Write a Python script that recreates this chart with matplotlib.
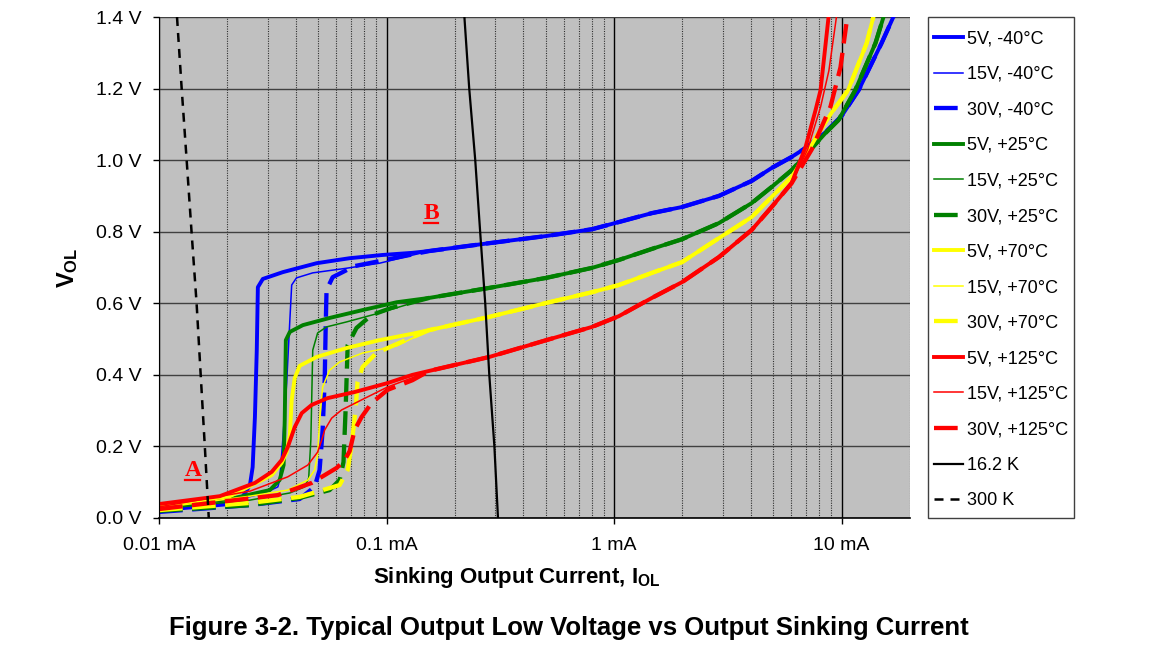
# -*- coding: utf-8 -*-
"""
Typical Output Low Voltage vs Output Sinking Current (Figure 3-2).
Curves read off the datasheet plot, current in mA, voltage in V.
"""

import numpy as np
import matplotlib
matplotlib.use('Agg')
import matplotlib.pyplot as plt
from matplotlib.lines import Line2D
from matplotlib.patches import Rectangle

plt.rcParams['font.family'] = ['Liberation Sans', 'DejaVu Sans']
plt.rcParams['mathtext.fontset'] = 'custom'
plt.rcParams['mathtext.rm'] = 'Liberation Sans'
plt.rcParams['mathtext.bf'] = 'Liberation Sans:bold'

#%% Data ---------------------------------------------------------------
# -40 °C (blue): shared upper branch, then the low-current part of each supply
m40_mid_i = [0.154, 0.283, 0.504, 0.801, 1.05, 1.468, 1.99, 2.89, 4.03, 4.93, 6.04, 6.95, 8.51, 10.0, 11.9, 15.0, 16.9]
m40_mid_v = [0.746, 0.768, 0.788, 0.807, 0.827, 0.852, 0.869, 0.900, 0.942, 0.978, 1.009, 1.034, 1.078, 1.123, 1.196, 1.327, 1.40]
m40_5v_i = [0.01, 0.0205, 0.0233, 0.0251, 0.0258, 0.0264, 0.0269, 0.0272, 0.0286, 0.0350, 0.0493, 0.0689, 0.0960, 0.130]
m40_5v_v = [0.022, 0.039, 0.059, 0.092, 0.142, 0.282, 0.469, 0.645, 0.668, 0.687, 0.712, 0.726, 0.735, 0.741]
m40_15v_i = [0.01, 0.0205, 0.0292, 0.0333, 0.0339, 0.0350, 0.0364, 0.0376, 0.0383, 0.0402, 0.0474, 0.0668, 0.0932]
m40_15v_v = [0.020, 0.046, 0.070, 0.087, 0.106, 0.218, 0.377, 0.553, 0.651, 0.671, 0.685, 0.698, 0.712]
m40_30v_i = [0.01, 0.0251, 0.0415, 0.0483, 0.0508, 0.0524, 0.0535, 0.0540, 0.0545, 0.0580, 0.0724, 0.0885]
m40_30v_v = [0.017, 0.036, 0.053, 0.087, 0.134, 0.246, 0.386, 0.525, 0.637, 0.673, 0.704, 0.715]

# +25 °C (green)
p25_mid_i = [0.154, 0.283, 0.504, 0.801, 1.05, 1.468, 1.99, 2.89, 4.03, 4.93, 6.04, 6.95, 8.51, 9.70, 11.5, 14.1, 15.3]
p25_mid_v = [0.615, 0.643, 0.671, 0.699, 0.721, 0.752, 0.779, 0.824, 0.880, 0.925, 0.972, 1.014, 1.076, 1.112, 1.196, 1.327, 1.40]
p25_5v_i = [0.01, 0.0205, 0.0307, 0.0339, 0.0353, 0.0357, 0.0361, 0.0376, 0.0429, 0.0562, 0.0785, 0.111]
p25_5v_v = [0.028, 0.053, 0.078, 0.106, 0.148, 0.274, 0.497, 0.520, 0.539, 0.559, 0.581, 0.603]
p25_15v_i = [0.01, 0.0251, 0.0376, 0.0437, 0.0455, 0.0465, 0.0474, 0.0498, 0.0545, 0.0668, 0.0932]
p25_15v_v = [0.025, 0.050, 0.070, 0.087, 0.112, 0.218, 0.469, 0.517, 0.534, 0.548, 0.573]
p25_30v_i = [0.01, 0.0251, 0.0415, 0.0562, 0.0622, 0.0647, 0.0661, 0.0675, 0.0738, 0.0859, 0.105]
p25_30v_v = [0.020, 0.036, 0.056, 0.078, 0.106, 0.156, 0.302, 0.483, 0.531, 0.567, 0.587]

# +70 °C (yellow)
p70_mid_i = [0.154, 0.283, 0.504, 0.801, 1.05, 1.468, 1.99, 2.89, 4.03, 4.93, 6.04, 6.95, 7.93, 9.03, 10.7, 12.9, 13.8]
p70_mid_v = [0.525, 0.562, 0.601, 0.631, 0.651, 0.685, 0.715, 0.782, 0.841, 0.897, 0.953, 1.014, 1.076, 1.132, 1.196, 1.327, 1.40]
p70_5v_i = [0.01, 0.0205, 0.0313, 0.0346, 0.0364, 0.0376, 0.0383, 0.0395, 0.0415, 0.0493, 0.0668, 0.0932, 0.130]
p70_5v_v = [0.034, 0.061, 0.120, 0.154, 0.184, 0.232, 0.330, 0.391, 0.425, 0.450, 0.475, 0.497, 0.515]
p70_15v_i = [0.01, 0.0251, 0.0368, 0.0451, 0.0483, 0.0498, 0.0508, 0.0524, 0.0562, 0.0622, 0.0785, 0.111]
p70_15v_v = [0.028, 0.061, 0.078, 0.106, 0.134, 0.176, 0.274, 0.366, 0.413, 0.436, 0.461, 0.481]
p70_30v_i = [0.01, 0.0251, 0.0415, 0.0622, 0.0675, 0.0702, 0.0731, 0.0746, 0.0785, 0.0903, 0.108]
p70_30v_v = [0.022, 0.042, 0.059, 0.092, 0.134, 0.204, 0.302, 0.380, 0.422, 0.461, 0.483]

# +125 °C (red): the three supplies split again above ~6 mA
p125_mid_i = [0.154, 0.283, 0.504, 0.801, 1.05, 1.468, 1.99, 2.89, 4.03, 4.93, 6.04]
p125_mid_v = [0.411, 0.450, 0.497, 0.534, 0.564, 0.615, 0.659, 0.729, 0.805, 0.869, 0.936]
p125_5v_i = [0.01, 0.0185, 0.0264, 0.0313, 0.0346, 0.0368, 0.0395, 0.0424, 0.0469, 0.0551, 0.0724, 0.101, 0.130]
p125_5v_v = [0.039, 0.061, 0.098, 0.129, 0.162, 0.198, 0.254, 0.293, 0.316, 0.335, 0.352, 0.377, 0.400]
p125_5v_top_i = [6.95, 7.69, 8.09, 8.77]
p125_5v_top_v = [1.037, 1.140, 1.196, 1.40]
p125_15v_i = [0.01, 0.0251, 0.0368, 0.0451, 0.0498, 0.0519, 0.0535, 0.0574, 0.0635, 0.0777, 0.101, 0.130]
p125_15v_v = [0.031, 0.075, 0.115, 0.148, 0.184, 0.218, 0.246, 0.279, 0.302, 0.330, 0.366, 0.392]
p125_15v_top_i = [7.1, 8.1, 8.8, 9.5]
p125_15v_top_v = [1.03, 1.15, 1.25, 1.40]
p125_30v_i = [0.01, 0.0238, 0.0333, 0.0469, 0.0604, 0.0655, 0.0689, 0.0724, 0.0777, 0.0859, 0.101, 0.130]
p125_30v_v = [0.025, 0.053, 0.064, 0.098, 0.140, 0.162, 0.187, 0.246, 0.282, 0.321, 0.358, 0.385]
p125_30v_top_i = [7.4, 8.95, 9.9, 10.5]
p125_30v_top_v = [1.03, 1.15, 1.26, 1.38]

# load lines
k16_i = [0.220, 0.231, 0.2455, 0.258, 0.2716, 0.283, 0.298, 0.309]
k16_v = [1.40, 1.20, 1.00, 0.80, 0.60, 0.40, 0.20, 0.00]
k300_i = [0.0120, 0.01258, 0.01323, 0.0139, 0.01463, 0.01525, 0.0159, 0.01655]
k300_v = [1.40, 1.20, 1.00, 0.80, 0.60, 0.40, 0.20, 0.00]

yticks = [0.0, 0.2, 0.4, 0.6, 0.8, 1.0, 1.2, 1.4]
xticks = [0.01, 0.1, 1, 10]
xtick_labels = ['0.01 mA', '0.1 mA', '1 mA', '10 mA']

#%% Series --------------------------------------------------------------
blue, green, yellow, red = '#0000ff', '#008000', '#ffff00', '#ff0000'

def join(*parts):
    return np.concatenate(parts)

series = [
    ('5V, -40°C',   join(m40_5v_i, m40_mid_i),  join(m40_5v_v, m40_mid_v),  blue,   '5'),
    ('15V, -40°C',  join(m40_15v_i, m40_mid_i), join(m40_15v_v, m40_mid_v), blue,   '15'),
    ('30V, -40°C',  join(m40_30v_i, m40_mid_i), join(m40_30v_v, m40_mid_v), blue,   '30'),
    ('5V, +25°C',   join(p25_5v_i, p25_mid_i),  join(p25_5v_v, p25_mid_v),  green,  '5'),
    ('15V, +25°C',  join(p25_15v_i, p25_mid_i), join(p25_15v_v, p25_mid_v), green,  '15'),
    ('30V, +25°C',  join(p25_30v_i, p25_mid_i), join(p25_30v_v, p25_mid_v), green,  '30'),
    ('5V, +70°C',   join(p70_5v_i, p70_mid_i),  join(p70_5v_v, p70_mid_v),  yellow, '5'),
    ('15V, +70°C',  join(p70_15v_i, p70_mid_i), join(p70_15v_v, p70_mid_v), yellow, '15'),
    ('30V, +70°C',  join(p70_30v_i, p70_mid_i), join(p70_30v_v, p70_mid_v), yellow, '30'),
    ('5V, +125°C',  join(p125_5v_i, p125_mid_i, p125_5v_top_i),
                    join(p125_5v_v, p125_mid_v, p125_5v_top_v), red, '5'),
    ('15V, +125°C', join(p125_15v_i, p125_mid_i, p125_15v_top_i),
                    join(p125_15v_v, p125_mid_v, p125_15v_top_v), red, '15'),
    ('30V, +125°C', join(p125_30v_i, p125_mid_i, p125_30v_top_i),
                    join(p125_30v_v, p125_mid_v, p125_30v_top_v), red, '30'),
]

#%% Figure --------------------------------------------------------------
fig = plt.figure(figsize=(11.68, 6.57), dpi=100)
ax = fig.add_axes([159/1168, 1-518/657, (910-159)/1168, (518-17)/657])
ax.set_facecolor('#c0c0c0')

for label, i, v, c, supply in series:
    if supply == '5':
        ax.plot(i, v, color=c, lw=2.8, label=label, solid_joinstyle='round')
    elif supply == '15':
        ax.plot(i, v, color=c, lw=1.1, label=label)
    else:
        ax.plot(i, v, color=c, lw=3.1, ls=(0, (5.5, 2.2)), label=label)

ax.plot(k16_i, k16_v, color='black', lw=1.6, label='16.2 K')
ax.plot(k300_i, k300_v, color='black', lw=1.8, ls=(0, (3.6, 2.8)), label='300 K')

ax.set_xscale('log')
ax.set_xlim(0.01, 20)
ax.set_ylim(0, 1.4)
ax.set_xticks(xticks)
ax.set_xticklabels(xtick_labels, fontsize=14)
ax.set_yticks(yticks)
ax.set_yticklabels([f'{y:.1f} V' for y in yticks], fontsize=14)
ax.tick_params(axis='both', which='major', direction='out', length=4.5, width=1, color='black')
ax.tick_params(axis='y', which='major', pad=8)
ax.tick_params(axis='x', which='major', pad=9)
ax.tick_params(axis='x', which='minor', length=0)

ax.grid(axis='y', which='major', color='#404040', lw=1.0)
ax.grid(axis='x', which='major', color='#000000', lw=1.0)
ax.grid(axis='x', which='minor', color='#303030', lw=0.8, ls=(0, (1, 1.2)))
ax.set_axisbelow(True)

for side in ['top', 'right']:
    ax.spines[side].set_visible(False)
ax.spines['left'].set_color('black')
ax.spines['bottom'].set_color('black')
ax.spines['bottom'].set_linewidth(1.2)

# point labels
ta = ax.text(0.0141, 0.117, 'A', color='red', fontsize=17, fontweight='bold',
             family='Liberation Serif', ha='center', va='baseline')
tb = ax.text(0.157, 0.835, 'B', color='red', fontsize=17, fontweight='bold',
             family='Liberation Serif', ha='center', va='baseline')

# legend without its own frame; the box is drawn below to match the plot height
leg = fig.legend(loc='upper left', bbox_to_anchor=(928/1168, 1-24/657),
                 bbox_transform=fig.transFigure, borderaxespad=0, fontsize=13,
                 handlelength=1.6, handletextpad=0.2, borderpad=0.35,
                 labelspacing=1.027, frameon=False)

fig.text(517/1168, 1-578/657, r'Sinking Output Current, $\mathbf{I_{OL}}$',
         fontsize=16, fontweight='bold', ha='center', va='center')
fig.text(68/1168, 1-268/657, r'$\mathbf{V_{OL}}$', fontsize=17,
         rotation=90, ha='center', va='center')
fig.text(569/1168, 1-628/657,
         'Figure 3-2. Typical Output Low Voltage vs Output Sinking Current',
         fontsize=18.5, fontweight='bold', ha='center', va='center')

fig.canvas.draw()
inv = fig.transFigure.inverted()

# underline the A / B markers
for t in (ta, tb):
    bb = t.get_window_extent()
    (x0, y0), (x1, _) = inv.transform([(bb.x0 + 1, bb.y0 + 1), (bb.x1 - 1, bb.y0)])
    fig.add_artist(Line2D([x0, x1], [y0, y0], color='red', lw=1.6, transform=fig.transFigure))

# legend box
lb = leg.get_window_extent()
(fx0, fy0), (fx1, fy1) = inv.transform([(928, 657 - 518), (lb.x1, 657 - 17)])
fig.add_artist(Rectangle((fx0, fy0), fx1 - fx0, fy1 - fy0, transform=fig.transFigure,
                         facecolor='none', edgecolor='#404040', lw=1.0, zorder=0))

fig.savefig('out.png', dpi=100)
